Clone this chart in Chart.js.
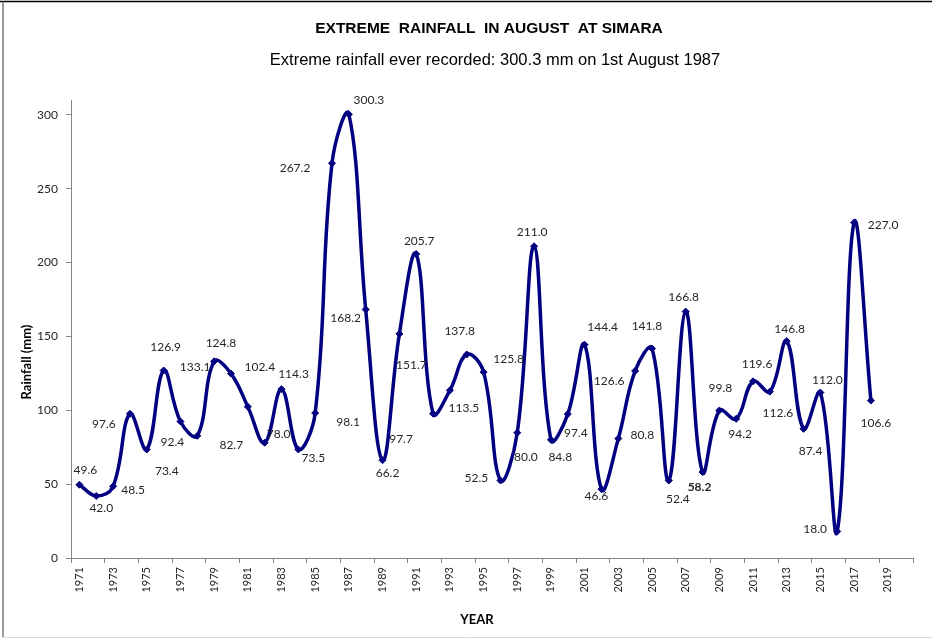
<!DOCTYPE html>
<html>
<head>
<meta charset="utf-8">
<title>Extreme Rainfall in August at Simara</title>
<script src="https://cdn.jsdelivr.net/npm/chart.js@4.4.1/dist/chart.umd.min.js"></script>
<style>
  html, body { margin: 0; padding: 0; background: #fff; }
</style>
</head>
<body>
<canvas id="rainChart" width="932" height="639"></canvas>
<script>
// categories on the x axis (2019 and 2020 have no value)
const years = [
  "1971", "1972", "1973", "1974", "1975", "1976", "1977", "1978", "1979", "1980",
  "1981", "1982", "1983", "1984", "1985", "1986", "1987", "1988", "1989", "1990",
  "1991", "1992", "1993", "1994", "1995", "1996", "1997", "1998", "1999", "2000",
  "2001", "2002", "2003", "2004", "2005", "2006", "2007", "2008", "2009", "2010",
  "2011", "2012", "2013", "2014", "2015", "2016", "2017", "2018", "2019", "2020"
];

// extreme August rainfall (mm), 1971 - 2018
const rainfall = [
  49.6, 42.0, 48.5, 97.6, 73.4, 126.9, 92.4, 82.7, 133.1, 124.8,
  102.4, 78.0, 114.3, 73.5, 98.1, 267.2, 300.3, 168.2, 66.2, 151.7,
  205.7, 97.7, 113.5, 137.8, 125.8, 52.5, 84.8, 211.0, 80.0, 97.4,
  144.4, 46.6, 80.8, 126.6, 141.8, 52.4, 166.8, 58.2, 99.8, 94.2,
  119.6, 112.6, 146.8, 87.4, 112.0, 18.0, 227.0, 106.6
];

const yTicks = [0, 50, 100, 150, 200, 250, 300];

// where each value label sits relative to its point (px), as placed in the original
const labelOffsets = [
  [6, -15], [5, 12], [20, 4], [-26, 10], [20, 22], [2, -23], [-8, 21], [34, 9], [-19, 6], [-10, -30],
  [12, -40], [14, -9], [12, -15], [15, 9], [33, 9], [-37, 5], [20, -14], [-20, 9], [5, 13], [12, 31],
  [3, -13], [-32, 25], [14, 18], [-7, -23], [25, -13], [-24, -2], [43, 24], [-2, -14], [-25, 17], [8, 19],
  [18, -18], [-5, 7], [24, -3], [-26, 10], [-5, -22], [9, 19], [-2, -14], [-3, 15], [1, -22], [4, 15],
  [4, -17], [8, 21], [3, -12], [7, 22], [7, -12], [-22, -2], [29, 2], [5, 23]
];
const boldLabelYear = "2008";

const axisGrey = "#868686";
const textDark = "#262626";
const navy = "#000080";

// value labels next to the points
const valueLabels = {
  id: "valueLabels",
  afterDatasetsDraw(chart) {
    const ctx = chart.ctx;
    const meta = chart.getDatasetMeta(0);
    ctx.save();
    ctx.fillStyle = textDark;
    ctx.textAlign = "center";
    ctx.textBaseline = "middle";
    meta.data.forEach((pt, i) => {
      const off = labelOffsets[i] || [0, -12];
      ctx.font = (years[i] === boldLabelYear ? "bold " : "") + "12px Lato";
      ctx.fillText(rainfall[i].toFixed(1), pt.x + off[0], pt.y + off[1]);
    });
    ctx.restore();
  }
};

// titles, axis titles and the frame of the original chart
const chartText = {
  id: "chartText",
  afterDraw(chart) {
    const ctx = chart.ctx;
    ctx.save();
    ctx.fillStyle = "#000";
    ctx.textAlign = "center";
    ctx.textBaseline = "middle";
    ctx.font = "bold 15.5px 'Liberation Sans'";
    ctx.fillText("EXTREME  RAINFALL  IN AUGUST  AT SIMARA", 489, 29);
    ctx.font = "16.5px 'Liberation Sans'";
    ctx.fillText("Extreme rainfall ever recorded: 300.3 mm on 1st August 1987", 495, 60);

    ctx.font = "bold 13px Lato";
    ctx.fillText("YEAR", 477, 620);
    ctx.translate(27, 362);
    ctx.rotate(-Math.PI / 2);
    ctx.fillText("Rainfall (mm)", 0, 0);
    ctx.restore();

    ctx.save();
    ctx.strokeStyle = "#000";
    ctx.lineWidth = 1.5;
    ctx.beginPath();
    ctx.moveTo(0, 1.5);
    ctx.lineTo(chart.width, 1.5);
    ctx.stroke();
    ctx.strokeStyle = "#555";
    ctx.lineWidth = 1.2;
    ctx.beginPath();
    ctx.moveTo(3, 1);
    ctx.lineTo(3, 637);
    ctx.stroke();
    ctx.strokeStyle = "#d9d9d9";
    ctx.lineWidth = 1;
    ctx.beginPath();
    ctx.moveTo(3, 637.5);
    ctx.lineTo(chart.width, 637.5);
    ctx.stroke();
    ctx.restore();
  }
};

new Chart(document.getElementById("rainChart"), {
  type: "line",
  data: {
    labels: years,
    datasets: [{
      label: "Rainfall (mm)",
      data: rainfall,
      borderColor: navy,
      backgroundColor: navy,
      borderWidth: 3.5,
      tension: 0.4,
      pointStyle: "rectRot",
      pointRadius: 3.5,
      pointBorderWidth: 1,
      pointBackgroundColor: navy,
      pointBorderColor: navy,
      fill: false
    }]
  },
  options: {
    responsive: false,
    animation: false,
    layout: { padding: { top: 100, right: 19, left: 0, bottom: 0 } },
    plugins: {
      legend: { display: false },
      tooltip: { enabled: false },
      title: { display: false }
    },
    scales: {
      x: {
        type: "category",
        offset: true,
        grid: {
          offset: true,
          drawOnChartArea: false,
          tickLength: 5,
          color: axisGrey,
          tickColor: (c) => (c.index === undefined || c.index % 2 === 0) ? axisGrey : "rgba(0,0,0,0)"
        },
        border: { color: axisGrey, width: 1 },
        ticks: {
          autoSkip: false,
          minRotation: 90,
          maxRotation: 90,
          padding: 4,
          color: textDark,
          font: { family: "Lato", size: 11 },
          callback: (v, i) => (i % 2 === 0 ? years[i] : "")
        },
        afterFit: (s) => { s.height = 81; }
      },
      y: {
        min: 0,
        max: 310,
        grid: { drawOnChartArea: false, tickLength: 5, color: axisGrey },
        border: { color: axisGrey, width: 1 },
        ticks: {
          stepSize: 50,
          padding: 8,
          color: textDark,
          font: { family: "Lato", size: 12 }
        },
        afterBuildTicks: (s) => { s.ticks = s.ticks.filter(t => yTicks.includes(t.value)); },
        afterFit: (s) => { s.width = 71; }
      }
    }
  },
  plugins: [valueLabels, chartText]
});
</script>
</body>
</html>
